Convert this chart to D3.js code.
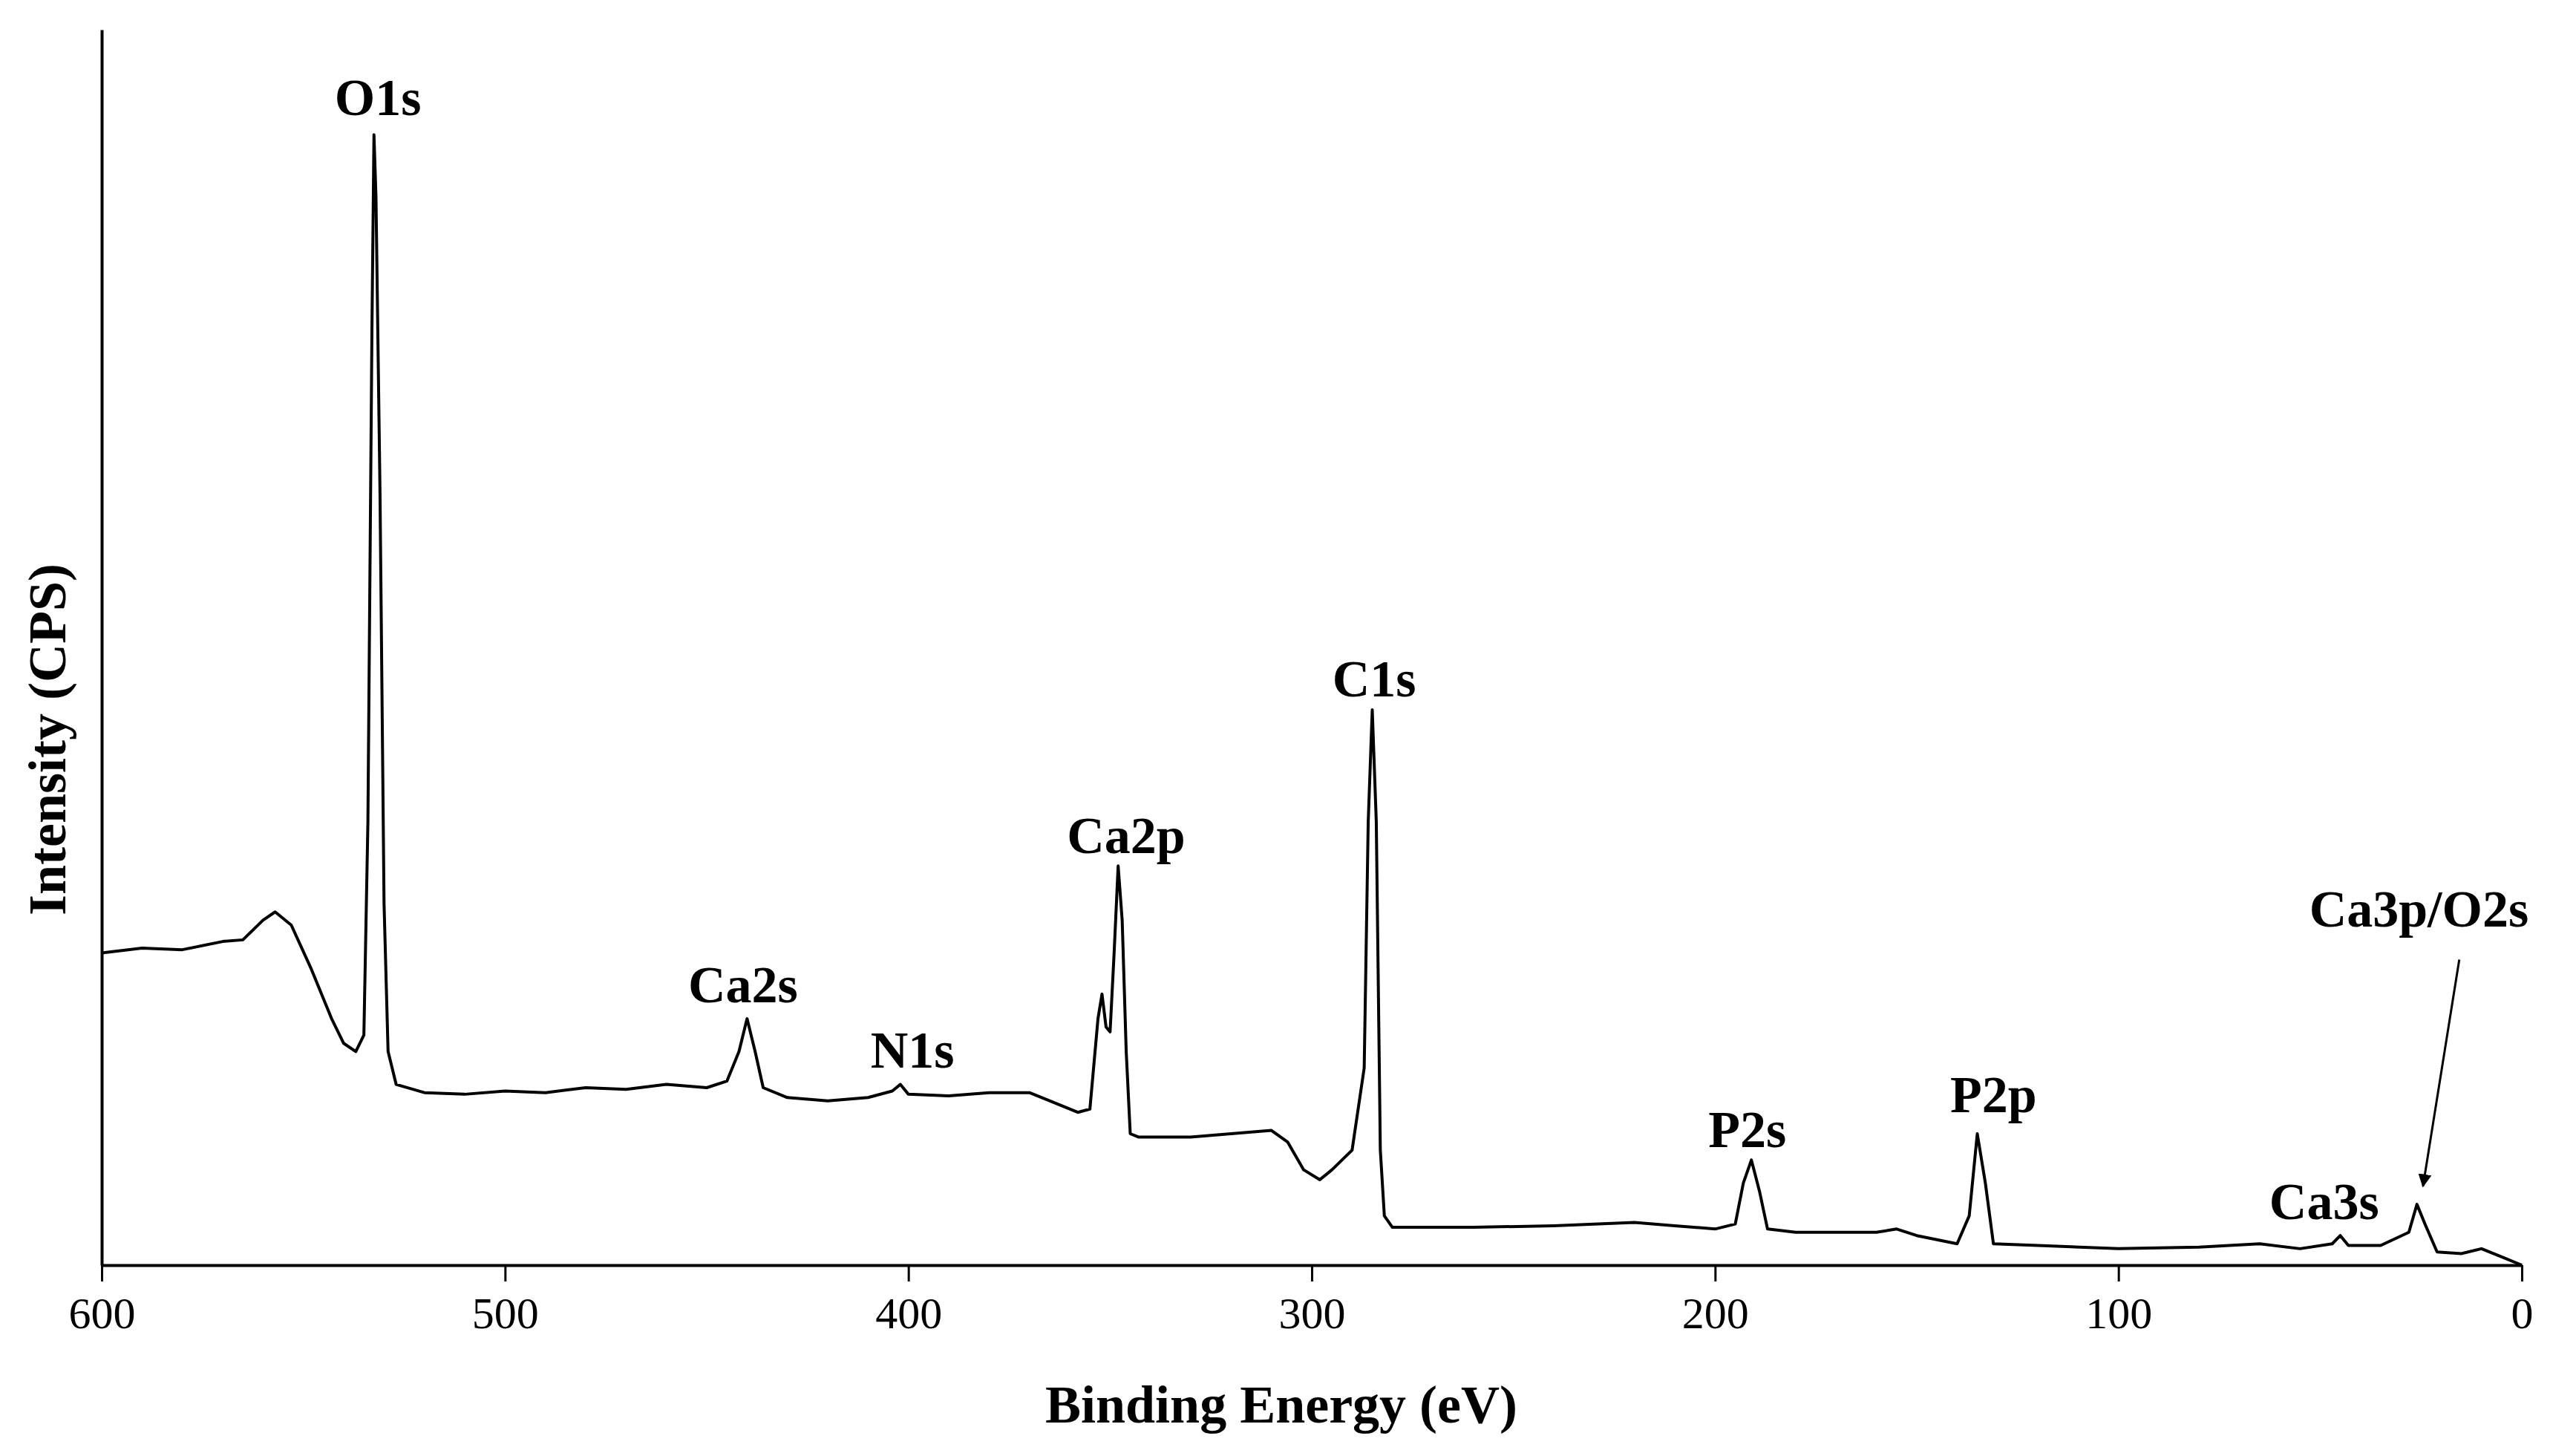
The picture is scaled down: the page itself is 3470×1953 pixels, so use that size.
<!DOCTYPE html>
<html><head><meta charset="utf-8">
<script src="https://cdn.jsdelivr.net/npm/d3@7"></script>
<style>body{margin:0;background:#fff}</style></head>
<body><svg id="c" width="3470" height="1953"></svg>
<script>
const energy = [600,590,580,570,565,560,557,553,548,543,540,537,535,534,533,532.5,532,531,530,529,527,520,510,500,490,480,470,460,450,445,442,440,438,436,430,425,420,410,404,402,400,390,380,370,365,358,355,353,352,351,350,349,348,347,346,345,343,330,320,310,306,302,298,295,290,287,286,285,284,283,282,280,260,240,220,210,200,195,193,191,189,187,180,160,155,150,140,137,135,133,131,120,100,80,65,55,47,45,43,35,28,26,24,21,15,10,5,0];
const intensity = [190,193,192,197,198,210,215,207,180,150,135,130,140,270,570,688,650,470,220,130,110,105,104,106,105,108,107,110,108,112,130,150,130,108,102,101,100,102,106,110,104,103,105,105,100,93,95,150,165,145,142,190,243,210,130,80,78,78,80,82,75,58,52,58,70,120,270,338,270,70,30,23,23,24,26,24,22,25,50,64,45,22,20,20,22,18,13,30,80,50,13,12,10,11,13,10,13,18,12,12,20,37,25,8,7,10,5,0];
const xTicks = [600,500,400,300,200,100,0];
const peakLabels = ["O1s","Ca2s","N1s","Ca2p","C1s","P2s","P2p","Ca3s","Ca3p/O2s"];
const labelEnergy = [531.5,441,399,346,284.5,192,131,49,25.5];
const labelIntensity = [700,160,120,251,346,72,93,28,206];

const svg = d3.select("#c");
const x = d3.scaleLinear().domain([600,0]).range([137,3397]);
const y = d3.scaleLinear().domain([0,752]).range([1704,40]);
const font = "'Liberation Serif','Times New Roman',serif";

svg.append("path").datum(energy.map((e,i)=>[e,intensity[i]]))
  .attr("fill","none").attr("stroke","#000").attr("stroke-width",4).attr("stroke-linejoin","round")
  .attr("d", d3.line().x(d=>x(d[0])).y(d=>y(d[1])));

const xa = svg.append("g").attr("transform","translate(0,1704)")
  .call(d3.axisBottom(x).tickValues(xTicks).tickSize(22).tickSizeOuter(0).tickPadding(20));
xa.select(".domain").attr("stroke-width",4);
xa.selectAll("line").attr("stroke-width",3);
xa.selectAll("text").attr("font-family",font).attr("font-size",60);

svg.append("g").attr("transform","translate(137,0)")
  .call(d3.axisLeft(y).tickValues([]).tickSizeOuter(0))
  .select(".domain").attr("stroke-width",4);

svg.append("text").attr("x",1726).attr("y",1916).attr("text-anchor","middle")
  .attr("font-family",font).attr("font-weight","bold").attr("font-size",72).text("Binding Energy (eV)");
svg.append("text").attr("transform","translate(88,996) rotate(-90)").attr("text-anchor","middle")
  .attr("font-family",font).attr("font-weight","bold").attr("font-size",72).text("Intensity (CPS)");

peakLabels.forEach((t,i)=>{
  svg.append("text").attr("x",x(labelEnergy[i])).attr("y",y(labelIntensity[i]))
    .attr("text-anchor","middle").attr("font-family",font).attr("font-weight","bold")
    .attr("font-size",70).text(t);
});

const defs = svg.append("defs");
defs.append("marker").attr("id","ah").attr("viewBox","0 0 10 10").attr("refX",9).attr("refY",5)
  .attr("markerWidth",6).attr("markerHeight",6).attr("orient","auto")
  .append("path").attr("d","M0,0L10,5L0,10z").attr("fill","#000");
svg.append("line").attr("x1",x(15.5)).attr("y1",y(186)).attr("x2",x(24.5)).attr("y2",y(48))
  .attr("stroke","#000").attr("stroke-width",3).attr("marker-end","url(#ah)");
</script></body></html>
